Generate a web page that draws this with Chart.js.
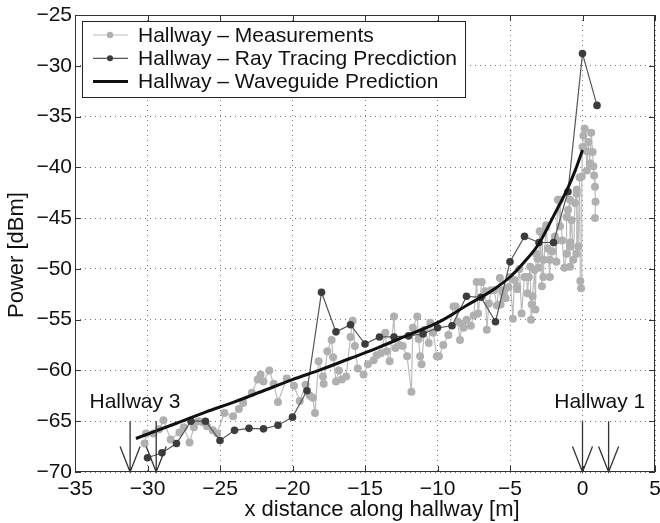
<!DOCTYPE html>
<html>
<head>
<meta charset="utf-8">
<title>Hallway power</title>
<script src="https://cdn.jsdelivr.net/npm/chart.js@4.4.1/dist/chart.umd.min.js"></script>
<style>
  body { margin: 0; background: #fff; }
  #wrap { position: relative; width: 660px; height: 523px; }
</style>
</head>
<body>
<div id="wrap"><canvas id="chart" width="660" height="523"></canvas></div>
<script>
const FONT = '"Liberation Sans", Arial, Helvetica, sans-serif';

// measured power along the hallway
const measX = [
  -30.2, -30.1, -29.6, -29.2, -28.9, -28.4, -27.8, -27.5, -27.1, -26.8,
  -26.5, -26.2, -25.9, -25.5, -25.2, -24.7, -24.1, -23.7, -23.4, -22.8,
  -22.4, -22.2, -22.0, -21.6, -21.3, -21.0, -20.4, -19.9, -19.5, -19.1,
  -18.8, -18.6, -18.45, -18.2, -17.9, -17.85, -17.6, -17.3, -17.2, -17.0,
  -16.8, -16.6, -16.3, -16.0, -15.85, -15.7, -15.5, -15.1, -14.8, -14.4,
  -14.2, -13.9, -13.6, -13.5, -13.3, -13.0, -12.9, -12.6, -12.4, -12.1,
  -11.8, -11.7, -11.4, -11.3, -11.2, -11.1, -10.9, -10.6, -10.5, -10.3,
  -10.05, -9.9, -9.6, -9.25, -8.9, -8.75, -8.6, -8.45, -8.3, -8.2,
  -8.0, -7.7, -7.5, -7.3, -7.2, -6.95, -6.7, -6.6, -6.45, -6.3,
  -6.1, -5.9, -5.7, -5.65, -5.5, -5.46, -5.3, -5.1, -5.0, -4.8,
  -4.7, -4.5, -4.5, -4.35, -4.2, -4.0, -3.85, -3.8, -3.7, -3.6,
  -3.55, -3.5, -3.45, -3.3, -3.25, -3.2, -3.1, -3.05, -2.95, -2.8,
  -2.8, -2.7, -2.65, -2.5, -2.5, -2.4, -2.25, -2.24, -2.1, -1.9,
  -1.8, -1.8, -1.7, -1.55, -1.55, -1.4, -1.25, -1.1, -1.1, -1.0,
  -0.86, -0.86, -0.86, -0.85, -0.75, -0.63, -0.52, -0.4, -0.4, -0.4,
  -0.3, -0.2, -0.15, -0.1, -0.05, 0.0, 0.06, 0.15, 0.25, 0.3,
  0.4, 0.5, 0.6, 0.7, 0.75, 0.8, 0.86, 0.9, 0.86
];
const measY = [
  -67.2, -66.2, -66.2, -65.8, -64.9, -66.8, -66.1, -65.6, -67.1, -65.6,
  -65.0, -65.1, -65.5, -65.9, -66.2, -64.2, -64.5, -63.8, -63.2, -62.2,
  -60.9, -60.4, -61.1, -60.0, -61.3, -63.1, -60.8, -61.5, -63.0, -61.4,
  -62.5, -62.7, -64.2, -59.1, -60.6, -61.3, -58.1, -57.0, -58.7, -61.1,
  -60.0, -60.9, -60.6, -56.7, -55.1, -57.6, -59.8, -60.4, -59.4, -59.0,
  -58.5, -58.3, -56.3, -58.1, -59.1, -54.7, -57.8, -57.5, -57.6, -58.6,
  -62.1, -55.8, -54.7, -56.9, -58.6, -59.4, -56.0, -57.3, -55.3, -56.3,
  -58.6, -58.6, -57.5, -56.5, -53.7, -53.7, -55.2, -57.0, -55.4, -55.8,
  -55.0, -55.6, -54.6, -51.3, -54.4, -51.3, -52.2, -56.0, -53.4, -52.1,
  -52.1, -53.6, -50.9, -53.5, -52.1, -52.4, -52.9, -51.8, -50.8, -54.9,
  -51.1, -52.0, -51.7, -50.0, -54.4, -50.8, -50.8, -52.4, -50.8, -49.8,
  -55.0, -53.5, -52.7, -50.1, -54.0, -48.5, -49.0, -49.9, -46.3, -51.7,
  -46.5, -50.8, -49.1, -45.7, -45.9, -48.0, -50.8, -49.1, -48.3, -46.8,
  -49.3, -47.2, -43.2, -45.8, -43.2, -47.2, -49.9, -48.5, -44.9, -44.2,
  -43.2, -47.8, -49.8, -47.4, -45.2, -49.1, -43.5, -42.2, -48.5, -42.6,
  -47.8, -41.0, -51.2, -51.9, -40.9, -38.0, -36.9, -36.2, -38.4, -40.3,
  -37.5, -39.6, -36.6, -38.5, -39.9, -40.8, -41.9, -43.4, -45.0
];

// ray tracing prediction, one value per metre
const rayX = [
  -30, -29, -28, -27, -26, -25, -24, -23, -22, -21, -20, -19, -18, -17, -16, -15,
  -14, -13, -12, -11, -10, -9, -8, -7, -6, -5, -4, -3, -2, -1, 0, 1
];
const rayY = [
  -68.6, -68.1, -67.2, -65.0, -65.0, -66.9, -65.9, -65.7, -65.75, -65.4, -64.6, -62.0, -52.3, -56.2, -55.5, -57.4,
  -56.7, -56.7, -56.6, -56.4, -55.8, -55.6, -52.7, -52.8, -55.2, -49.3, -46.8, -47.4, -47.4, -42.4, -28.8, -33.9
];

// waveguide model
const waveX = [-30.8, -28, -26, -24, -22, -20, -18, -16, -14, -12, -10, -9, -8, -7, -6, -5, -4, -3, -2, -1, -0.5, 0];
const waveY = [-66.7, -65.2, -64.1, -63.1, -62.0, -60.9, -59.9, -58.8, -57.7, -56.5, -55.3, -54.5, -53.6, -52.8, -51.9, -50.8, -49.3, -47.5, -44.8, -42.0, -40.3, -38.3];

// hallway entrances marked with arrows
const hallway3Arrows = [-31.2, -29.4];
const hallway1Arrows = [0, 1.8];

const zip = (xs, ys) => xs.map((x, i) => ({ x: x, y: ys[i] }));
const minus = v => String(v).replace('-', '\u2212');

const decorations = {
  id: 'decorations',
  afterDatasetsDraw(chart) {
    const { ctx, chartArea: a, scales: { x, y } } = chart;
    ctx.save();

    // box and inward ticks
    ctx.strokeStyle = '#333';
    ctx.lineWidth = 1;
    ctx.strokeRect(a.left + 0.5, a.top + 0.5, a.right - a.left - 1, a.bottom - a.top - 1);
    ctx.beginPath();
    x.ticks.forEach(t => {
      const px = Math.round(x.getPixelForValue(t.value)) + 0.5;
      ctx.moveTo(px, a.top); ctx.lineTo(px, a.top + 6);
      ctx.moveTo(px, a.bottom); ctx.lineTo(px, a.bottom - 6);
    });
    y.ticks.forEach(t => {
      const py = Math.round(y.getPixelForValue(t.value)) + 0.5;
      ctx.moveTo(a.left, py); ctx.lineTo(a.left + 6, py);
      ctx.moveTo(a.right, py); ctx.lineTo(a.right - 6, py);
    });
    ctx.stroke();

    // arrows down to the floor of the plot
    ctx.strokeStyle = '#333';
    ctx.lineWidth = 1.3;
    hallway3Arrows.concat(hallway1Arrows).forEach(v => {
      const px = x.getPixelForValue(v);
      const top = y.getPixelForValue(-65);
      const tip = y.getPixelForValue(-70);
      const head = y.getPixelForValue(-67.5);
      ctx.beginPath();
      ctx.moveTo(px, top); ctx.lineTo(px, tip);
      ctx.moveTo(px - 10, head); ctx.lineTo(px, tip); ctx.lineTo(px + 10, head);
      ctx.stroke();
    });

    ctx.fillStyle = '#111';
    ctx.font = '21px ' + FONT;
    ctx.textBaseline = 'middle';
    ctx.textAlign = 'left';
    ctx.fillText('Hallway 3', x.getPixelForValue(-34), y.getPixelForValue(-63.1));
    ctx.fillText('Hallway 1', x.getPixelForValue(-1.95), y.getPixelForValue(-63.1));

    // legend
    const ds = chart.data.datasets;
    const bx = 82, by = 21;
    const textX = bx + 56;
    const widths = ds.map(d => ctx.measureText(d.label).width);
    const bw = textX - bx + Math.max(...widths) + 8;
    const bh = 76;
    ctx.fillStyle = '#fff';
    ctx.fillRect(bx, by, bw, bh);
    ctx.strokeStyle = '#222';
    ctx.lineWidth = 1;
    ctx.strokeRect(bx + 0.5, by + 0.5, bw, bh);
    ds.forEach((d, i) => {
      const ry = by + 14 + i * 23.3;
      ctx.strokeStyle = d.borderColor;
      ctx.lineWidth = d.borderWidth;
      ctx.beginPath();
      ctx.moveTo(bx + 11, ry); ctx.lineTo(bx + 46, ry);
      ctx.stroke();
      if (d.pointRadius > 0) {
        ctx.fillStyle = d.pointBackgroundColor;
        ctx.beginPath();
        ctx.arc(bx + 28, ry, d.pointRadius - 0.8, 0, Math.PI * 2);
        ctx.fill();
      }
      ctx.fillStyle = '#111';
      ctx.fillText(d.label, textX, ry + 1);
    });

    // axis titles
    ctx.font = '22px ' + FONT;
    ctx.textAlign = 'center';
    ctx.fillText('x distance along hallway [m]', 382, 510);
    ctx.translate(17, 255);
    ctx.rotate(-Math.PI / 2);
    ctx.fillText('Power [dBm]', 0, 0);

    ctx.restore();
  }
};

Chart.defaults.font.family = FONT;
Chart.defaults.font.size = 21;
Chart.defaults.color = '#111';

new Chart(document.getElementById('chart'), {
  type: 'scatter',
  data: {
    datasets: [
      {
        label: 'Hallway \u2013 Measurements',
        data: zip(measX, measY),
        showLine: true,
        borderColor: '#bcbcbc',
        borderWidth: 1.2,
        pointRadius: 4,
        pointBackgroundColor: '#b0b0b0',
        pointBorderWidth: 0,
        order: 2
      },
      {
        label: 'Hallway \u2013 Ray Tracing Precdiction',
        data: zip(rayX, rayY),
        showLine: true,
        borderColor: '#555',
        borderWidth: 1.2,
        pointRadius: 3.8,
        pointBackgroundColor: '#3c3c3c',
        pointBorderWidth: 0,
        order: 1
      },
      {
        label: 'Hallway \u2013 Waveguide Prediction',
        data: zip(waveX, waveY),
        showLine: true,
        borderColor: '#111',
        borderWidth: 3,
        pointRadius: 0,
        cubicInterpolationMode: 'monotone',
        order: 0
      }
    ]
  },
  options: {
    responsive: false,
    animation: false,
    layout: { padding: { top: 15, right: 5, left: 0, bottom: 0 } },
    scales: {
      x: {
        type: 'linear',
        min: -35,
        max: 5,
        ticks: { stepSize: 5, padding: 5, maxRotation: 0, callback: minus },
        grid: { color: '#777', lineWidth: 1, drawTicks: false },
        border: { display: false, dash: [1, 4] },
        afterFit(s) { s.height = 51; s.paddingLeft = 0; s.paddingRight = 0; }
      },
      y: {
        min: -70,
        max: -25,
        ticks: { stepSize: 5, padding: 3, callback: minus },
        grid: { color: '#777', lineWidth: 1, drawTicks: false },
        border: { display: false, dash: [1, 4] },
        afterFit(s) { s.width = 75; s.paddingTop = 0; s.paddingBottom = 0; }
      }
    },
    plugins: {
      legend: { display: false },
      tooltip: { enabled: false }
    }
  },
  plugins: [decorations]
});
</script>
</body>
</html>
